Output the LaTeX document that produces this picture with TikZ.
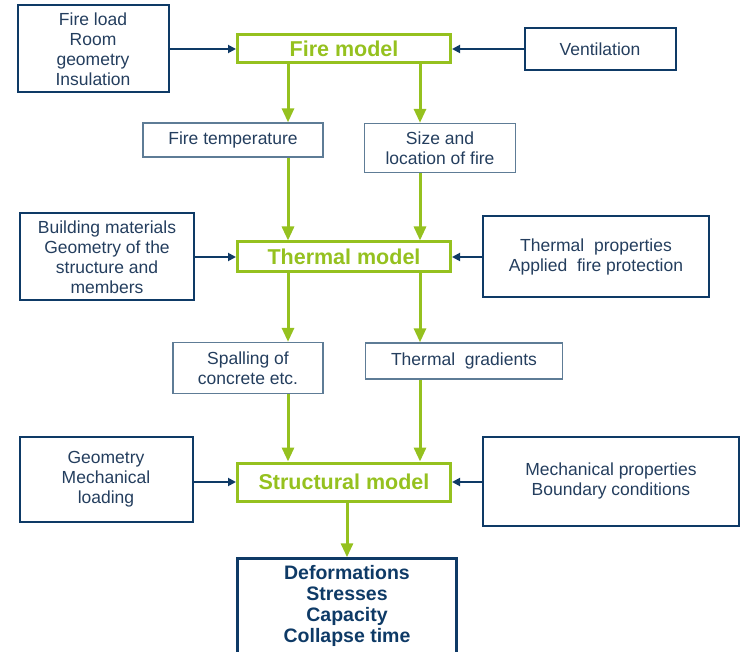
\documentclass[tikz,border=0pt]{standalone}
\usepackage{fontspec}
\setmainfont{Liberation Sans}
\usetikzlibrary{positioning,arrows.meta}
\definecolor{modelgreen}{HTML}{95C11F}
\definecolor{boxnavy}{HTML}{0E3A66}
\definecolor{textnavy}{HTML}{243E5E}
\definecolor{resultgrey}{HTML}{5E7C96}

\begin{document}
\begin{tikzpicture}[
    x=1pt, y=-1pt,
    every node/.style={align=center, inner sep=0pt, text=textnavy, font=\fontsize{17.5}{20}\selectfont},
    model/.style={draw=modelgreen, line width=3pt, text=modelgreen, font=\fontsize{21.5}{24}\bfseries\selectfont, minimum width=213pt},
    input/.style={draw=boxnavy, line width=2pt},
    result/.style={draw=resultgrey, line width=1.3pt},
    output/.style={draw=boxnavy, line width=2.5pt, text=boxnavy, font=\fontsize{19.5}{21}\bfseries\selectfont},
    flow/.style={draw=modelgreen, line width=3pt, -{Triangle[length=14pt,width=12pt]}},
    feed/.style={draw=boxnavy, line width=1.8pt, -{Triangle[length=8pt,width=8pt]}}
]
    \useasboundingbox (0,0) rectangle (742,652);

    % Models
    \node[model, minimum height=28pt] (fire) at (344,49) {Fire model};
    \node[model, minimum height=30pt] (thermal) at (344,257) {Thermal model};
    \node[model, minimum height=38pt] (struct) at (344,482) {Structural model};

    % Inputs
    \node[input, minimum width=151pt, minimum height=87pt] (load) at (93,49) {Fire load\\Room\\geometry\\Insulation};
    \node[input, minimum width=151pt, minimum height=42pt] (vent) at (600,49) {Ventilation};
    \node[input, minimum width=174pt, minimum height=87pt] (build) at (107,257) {Building materials\\Geometry of the\\structure and\\members};
    \node[input, minimum width=226pt, minimum height=81pt] (thprop) at (596,257) {Thermal\ \ properties\\Applied\ \ fire protection};
    \node[input, minimum width=173pt, minimum height=85pt] (geom) at (106,479) {Geometry\\Mechanical\\loading};
    \node[input, minimum width=256pt, minimum height=89pt] (mech) at (611,481) {Mechanical properties\\Boundary conditions};

    % Intermediate results
    \node[result, minimum width=180pt, minimum height=34pt] (firetemp) at (233,140) {Fire temperature};
    \node[result, minimum width=151pt, minimum height=49pt] (size) at (440,148) {Size and\\location\ of fire};
    \node[result, minimum width=150pt, minimum height=51pt] (spall) at (248,368) {Spalling\ of\\concrete etc.};
    \node[result, minimum width=197pt, minimum height=36pt] (grad) at (464,361) {Thermal\ \ gradients};

    % Output
    \node[output, minimum width=219pt, minimum height=95pt] (out) at (347,606) {Deformations\\Stresses\\Capacity\\Collapse time};

    % Columns of the green arrows
    \coordinate (colL) at (288,0);
    \coordinate (colR) at (420,0);

    \draw[flow] (fire.south -| colL) -- (firetemp.north -| colL);
    \draw[flow] (fire.south -| colR) -- (size.north -| colR);
    \draw[flow] (firetemp.south -| colL) -- (thermal.north -| colL);
    \draw[flow] (size.south -| colR) -- (thermal.north -| colR);
    \draw[flow] (thermal.south -| colL) -- (spall.north -| colL);
    \draw[flow] (thermal.south -| colR) -- (grad.north -| colR);
    \draw[flow] (spall.south -| colL) -- (struct.north -| colL);
    \draw[flow] (grad.south -| colR) -- (struct.north -| colR);
    \draw[flow] (struct.south -| out.north) -- (out.north);

    % Blue feeds
    \draw[feed] (load.east |- fire) -- (fire.west);
    \draw[feed] (vent.west) -- (fire.east);
    \draw[feed] (build.east |- thermal) -- (thermal.west);
    \draw[feed] (thprop.west |- thermal) -- (thermal.east);
    \draw[feed] (geom.east |- struct) -- (struct.west);
    \draw[feed] (mech.west |- struct) -- (struct.east);
\end{tikzpicture}
\end{document}
